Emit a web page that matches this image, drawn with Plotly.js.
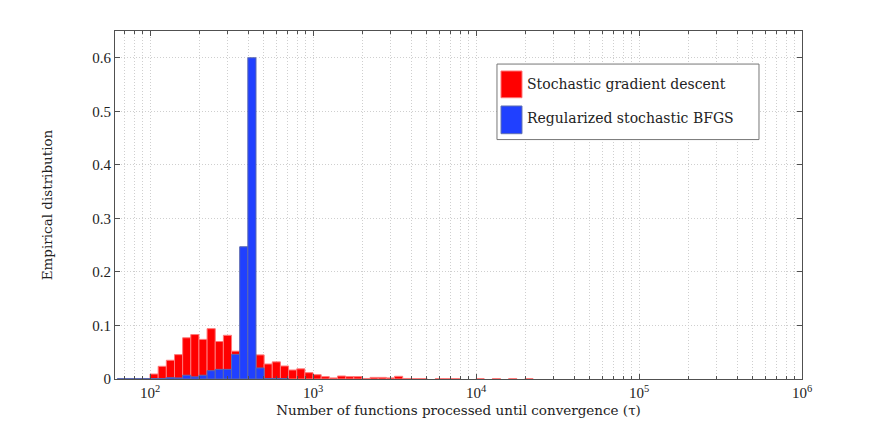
<!DOCTYPE html>
<html>
<head>
<meta charset="utf-8">
<script src="https://cdn.plot.ly/plotly-3.0.1.min.js"></script>
<style>
  html, body { margin: 0; padding: 0; background: #fff; }
  #plot { width: 885px; height: 427px; }
</style>
</head>
<body>
<div id="plot"></div>
<script>
// Bin centers, as log10(tau). Bins are 0.05 decades wide.
const BIN_CENTERS = [
  1.825, 1.875, 1.925, 1.975,
  2.025, 2.075, 2.125, 2.175, 2.225, 2.275, 2.325, 2.375, 2.425, 2.475,
  2.525, 2.575, 2.625, 2.675, 2.725, 2.775, 2.825, 2.875, 2.925, 2.975,
  3.025, 3.075, 3.125, 3.175, 3.225, 3.275, 3.325, 3.375, 3.425, 3.475,
  3.525, 3.575, 3.625, 3.675, 3.725, 3.775, 3.825, 3.875, 3.925, 3.975,
  4.025, 4.075, 4.125, 4.175, 4.225, 4.275, 4.325
];
// null = empty bin
const SGD_VALUES = [
  null, null, null, null,
  0.0093, 0.0237, 0.035, 0.0455, 0.077, 0.083, 0.074, 0.094, 0.070, 0.0816,
  0.052, 0.050, 0.035, 0.045, 0.028, 0.032, 0.0243, 0.0168, 0.019, 0.0118,
  0.008, 0.0044, 0.002, 0.0056, 0.0044, 0.0044, 0.001, 0.003, 0.003, 0.002,
  0.005, 0.001, 0.0006, 0.0006, null, 0.0006, 0.0006, 0.0006, null, null,
  0.0006, null, 0.0006, null, 0.0006, null, 0.0006
];
const BFGS_VALUES = [
  0.0008, 0.0008, 0.0008, 0.0008,
  0.0008, 0.001, 0.0025, 0.002, 0.007, 0.004, 0.007, 0.0155, 0.018, 0.018,
  0.046, 0.247, 0.600, 0.0206, 0.001, 0.001, 0.0008, null, null, null,
  null, null, null, null, null, null, null, null, null, null,
  null, null, null, null, null, null, null, null, null, null,
  null, null, null, null, null, null, null
];
const DECADES = [2, 3, 4, 5, 6];
const DECADE_LABELS = ['10<sup>2</sup>', '10<sup>3</sup>', '10<sup>4</sup>', '10<sup>5</sup>', '10<sup>6</sup>'];
const SERIES_NAMES = ['Stochastic gradient descent', 'Regularized stochastic BFGS'];

const RED = '#ff0000';
const BLUE = '#2040ff';
const AXIS_COLOR = '#505050';
const GRID_COLOR = '#cfcfcf';
const GRID_DASH = '1px,2px';
const TICK_FONT = {family: 'Liberation Serif', size: 15, color: '#222'};
const LABEL_FONT = {family: 'DejaVu Serif', size: 13.5, color: '#222'};

function minorTicks() {
  // log-scale minor grid: 2..9 times each decade
  let vals = [];
  for (let d = 1; d < 6; d++) {
    for (let m = 2; m < 10; m++) {
      let v = d + Math.log10(m);
      if (v > 1.785) vals.push(v);
    }
  }
  return vals;
}

function legendShapes() {
  return [
    {type: 'rect', xref: 'paper', yref: 'paper', x0: 0.556, x1: 0.9374, y0: 0.688, y1: 0.905,
     fillcolor: '#fff', line: {color: '#777', width: 1}, layer: 'above'},
    {type: 'rect', xref: 'paper', yref: 'paper', x0: 0.5619, x1: 0.5924, y0: 0.8083, y1: 0.885,
     fillcolor: RED, line: {color: '#ff7070', width: 1}, layer: 'above'},
    {type: 'rect', xref: 'paper', yref: 'paper', x0: 0.5619, x1: 0.5924, y0: 0.7049, y1: 0.7845,
     fillcolor: BLUE, line: {color: '#6070b0', width: 1}, layer: 'above'},
  ];
}

function legendText() {
  const ys = [0.8468, 0.749];
  return SERIES_NAMES.map((name, i) => ({
    xref: 'paper', yref: 'paper', x: 0.5968, y: ys[i], xanchor: 'left', yanchor: 'middle',
    text: name, showarrow: false, font: {family: 'DejaVu Serif', size: 14, color: '#222'}
  }));
}

function makePlot() {
  const traces = [
    {type: 'bar', name: SERIES_NAMES[0], x: BIN_CENTERS, y: SGD_VALUES, width: 0.05,
     marker: {color: RED, line: {color: '#ff7878', width: 1}}, hoverinfo: 'none'},
    {type: 'bar', name: SERIES_NAMES[1], x: BIN_CENTERS, y: BFGS_VALUES, width: 0.05,
     marker: {color: BLUE, line: {color: '#5a68b0', width: 1}}, hoverinfo: 'none'},
  ];
  const layout = {
    width: 885, height: 427,
    margin: {l: 115, r: 83, t: 31, b: 48},
    paper_bgcolor: '#fff', plot_bgcolor: '#fff',
    barmode: 'overlay', bargap: 0,
    showlegend: false,
    xaxis: {
      range: [1.785, 6.0], tickmode: 'array', tickvals: DECADES, ticktext: DECADE_LABELS,
      tickfont: TICK_FONT, ticks: 'inside', ticklen: 5, tickcolor: AXIS_COLOR,
      showline: true, linecolor: AXIS_COLOR, mirror: 'ticks', zeroline: false,
      showgrid: true, gridcolor: GRID_COLOR, griddash: GRID_DASH, gridwidth: 1,
      minor: {tickvals: minorTicks(), ticks: 'inside', ticklen: 3, tickcolor: AXIS_COLOR,
              showgrid: true, gridcolor: GRID_COLOR, griddash: GRID_DASH, gridwidth: 1},
      title: {text: 'Number of functions processed until convergence (τ)', font: LABEL_FONT, standoff: 5},
    },
    yaxis: {
      range: [0, 0.65], tick0: 0, dtick: 0.1,
      tickfont: TICK_FONT, ticks: 'inside', ticklen: 5, tickcolor: AXIS_COLOR,
      showline: true, linecolor: AXIS_COLOR, mirror: 'ticks', zeroline: false,
      showgrid: true, gridcolor: GRID_COLOR, griddash: GRID_DASH, gridwidth: 1,
      title: {text: 'Empirical distribution', font: LABEL_FONT, standoff: 36},
    },
    shapes: legendShapes(),
    annotations: legendText(),
  };
  Plotly.newPlot('plot', traces, layout, {displayModeBar: false, staticPlot: true});
}

makePlot();
</script>
</body>
</html>
